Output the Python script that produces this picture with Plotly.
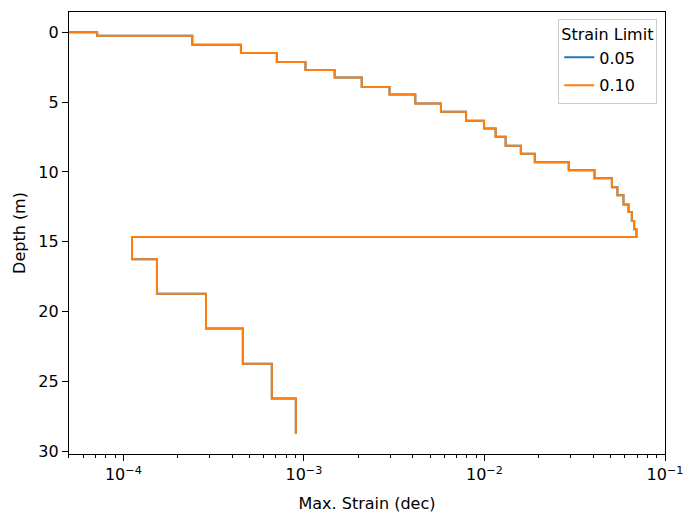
import plotly.graph_objects as go

# Layer depths (m) and max strain (dec) per strain-limit run
depth = [0.0, 0.26, 0.90, 1.50, 2.14, 2.71, 3.25, 3.92, 4.46, 5.10, 5.70, 6.34,
         6.90, 7.48, 8.12, 8.69, 9.30, 9.88, 10.45, 11.09, 11.66, 12.32, 12.87,
         13.51, 14.10, 14.65, 16.24, 18.71, 21.20, 23.71, 26.20, 28.73]
strain_005 = [1e-6, 7.16e-5, 2.41e-4, 4.48e-4, 7.08e-4, 1.02e-3, 1.48e-3, 2.09e-3,
              2.98e-3, 4.14e-3, 5.74e-3, 7.91e-3, 9.95e-3, 1.153e-2, 1.31e-2, 1.59e-2,
              1.90e-2, 2.93e-2, 4.07e-2, 5.08e-2, 5.45e-2, 5.89e-2, 6.28e-2, 6.55e-2,
              6.75e-2, 6.95e-2, 1.117e-4, 1.535e-4, 2.87e-4, 4.59e-4, 6.64e-4, 9.02e-4]
strain_010 = list(strain_005)
series_names = ["0.05", "0.10"]
series_colors = ["#1f77b4", "#ff7f0e"]

major_x = [1e-4, 1e-3, 1e-2, 1e-1]
major_x_text = ["10<sup>\u22124</sup>", "10<sup>\u22123</sup>", "10<sup>\u22122</sup>", "10<sup>\u22121</sup>"]
minor_x = [k * 10.0 ** d for d in range(-5, -1) for k in range(2, 10) if 5e-5 <= k * 10.0 ** d <= 0.1]
y_ticks = [0, 5, 10, 15, 20, 25, 30]

fig = go.Figure()
for name, xs, col in zip(series_names, [strain_005, strain_010], series_colors):
    fig.add_trace(go.Scatter(x=xs, y=depth, mode="lines", name=name, legendgroup=name,
                             line=dict(color=col, width=2, shape="hv")))

font = dict(family="DejaVu Sans", size=16, color="black")
fig.update_layout(
    width=694, height=523,
    margin=dict(l=69, r=27, t=11, b=69),
    paper_bgcolor="white", plot_bgcolor="white",
    font=font,
    legend=dict(title=dict(text="Strain Limit", font=font, side="top"),
                x=0.987, y=0.985, xanchor="right", yanchor="top",
                bordercolor="#cccccc", borderwidth=1, bgcolor="rgba(255,255,255,0.8)",
                font=font, tracegroupgap=4),
    xaxis=dict(type="log", range=[-4.301, -1.0],
               tickmode="array", tickvals=major_x, ticktext=major_x_text,
               ticks="outside", ticklen=6, tickwidth=1.2, tickcolor="black",
               showline=True, linecolor="black", linewidth=1.2, mirror=True,
               showgrid=False, zeroline=False,
               minor=dict(tickmode="array", tickvals=minor_x, ticks="outside",
                          ticklen=3, tickwidth=1, tickcolor="black", showgrid=False),
               title=dict(text="Max. Strain (dec)", font=font, standoff=14),
               tickfont=font),
    yaxis=dict(range=[30.17, -1.44],
               tickmode="array", tickvals=y_ticks,
               ticks="outside", ticklen=6, tickwidth=1.2, tickcolor="black",
               showline=True, linecolor="black", linewidth=1.2, mirror=True,
               showgrid=False, zeroline=False,
               title=dict(text="Depth (m)", font=font, standoff=8),
               tickfont=font),
)

fig.write_html("out.html")
